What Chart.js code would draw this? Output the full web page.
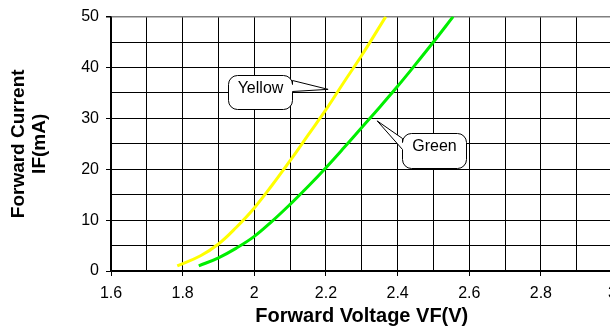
<!DOCTYPE html>
<html>
<head>
<meta charset="utf-8">
<script src="https://cdn.jsdelivr.net/npm/chart.js@4.4.1/dist/chart.umd.min.js"></script>
<style>
  html, body { margin: 0; padding: 0; background: #fff; overflow: hidden; }
  #wrap { position: relative; width: 625px; height: 335px; }
</style>
</head>
<body>
<div id="wrap"><canvas id="ivChart"></canvas></div>
<script>
// forward voltage (V) / forward current (mA)
const yellowVolts = [1.785, 1.85, 1.9, 1.95, 2.0, 2.05, 2.1, 2.15, 2.2, 2.25, 2.3, 2.367];
const yellowCurrent = [1, 3, 5.3, 8.6, 12.4, 16.9, 21.7, 26.7, 31.7, 37.1, 42.4, 50];
const greenVolts = [1.845, 1.9, 1.95, 2.0, 2.05, 2.1, 2.15, 2.2, 2.25, 2.3, 2.35, 2.4, 2.45, 2.5, 2.555];
const greenCurrent = [1, 2.6, 4.5, 6.8, 9.8, 13.1, 16.6, 20.3, 24.2, 28.2, 32.2, 36.3, 40.6, 45, 50];

const xTickLabels = ['1.6', '1.8', '2', '2.2', '2.4', '2.6', '2.8', '3'];
const yTickLabels = ['0', '10', '20', '30', '40', '50'];

// callouts: text, pointer tip and box corners in data units
const calloutText = ['Yellow', 'Green'];
const calloutTipX = [2.206, 2.343];
const calloutTipY = [35.7, 29.5];
const calloutLeft = [1.927, 2.411];
const calloutRight = [2.104, 2.592];
const calloutTop = [38.6, 27.1];
const calloutBottom = [31.9, 20.2];

const FONT = 'Arial, "Liberation Sans", sans-serif';

function toPoints(xs, ys) {
  return xs.map((x, i) => ({ x, y: ys[i] }));
}

function isLabelledX(value) {
  return xTickLabels.includes(String(Number(value.toFixed(1))));
}

function isLabelledY(value) {
  return yTickLabels.includes(String(Math.round(value)));
}

const calloutPlugin = {
  id: 'callouts',
  afterDatasetsDraw(chart) {
    const { ctx, scales: { x, y } } = chart;
    ctx.save();
    ctx.lineWidth = 1;
    ctx.strokeStyle = '#000';
    calloutText.forEach((text, i) => {
      const l = Math.round(x.getPixelForValue(calloutLeft[i])) + 0.5;
      const r = Math.round(x.getPixelForValue(calloutRight[i])) + 0.5;
      const t = Math.round(y.getPixelForValue(calloutTop[i])) + 0.5;
      const b = Math.round(y.getPixelForValue(calloutBottom[i])) + 0.5;
      const tx = x.getPixelForValue(calloutTipX[i]);
      const ty = y.getPixelForValue(calloutTipY[i]);
      const rad = 9;
      const pointerRight = tx > r;

      ctx.beginPath();
      ctx.moveTo(l + rad, t);
      ctx.lineTo(r - rad, t);
      ctx.arcTo(r, t, r, t + rad, rad);
      if (pointerRight) {
        ctx.lineTo(r, t + 5);
        ctx.lineTo(tx, ty);
        ctx.lineTo(r, t + 16);
      }
      ctx.lineTo(r, b - rad);
      ctx.arcTo(r, b, r - rad, b, rad);
      ctx.lineTo(l + rad, b);
      ctx.arcTo(l, b, l, b - rad, rad);
      if (!pointerRight) {
        ctx.lineTo(l, t + 16);
        ctx.lineTo(tx, ty);
        ctx.lineTo(l, t + 5);
      }
      ctx.lineTo(l, t + rad);
      ctx.arcTo(l, t, l + rad, t, rad);
      ctx.closePath();
      ctx.fillStyle = '#fff';
      ctx.fill();
      ctx.stroke();

      ctx.fillStyle = '#000';
      ctx.font = '16px ' + FONT;
      ctx.textAlign = 'center';
      ctx.textBaseline = 'middle';
      ctx.fillText(text, (l + r) / 2, t + 13);
    });
    ctx.restore();
  },
};

new Chart(document.getElementById('ivChart'), {
  type: 'line',
  data: {
    datasets: [
      {
        label: 'Yellow',
        data: toPoints(yellowVolts, yellowCurrent),
        borderColor: '#ffff00',
        borderWidth: 3,
        pointRadius: 0,
        tension: 0.4,
      },
      {
        label: 'Green',
        data: toPoints(greenVolts, greenCurrent),
        borderColor: '#00ee00',
        borderWidth: 3,
        pointRadius: 0,
        tension: 0.4,
      },
    ],
  },
  options: {
    responsive: true,
    maintainAspectRatio: false,
    animation: false,
    layout: { padding: { top: 15, right: 12, bottom: 0, left: 0 } },
    plugins: {
      legend: { display: false },
      tooltip: { enabled: false },
    },
    scales: {
      x: {
        type: 'linear',
        min: 1.6,
        max: 3.0,
        afterFit(scale) { scale.height = 64; },
        ticks: {
          stepSize: 0.1,
          autoSkip: false,
          maxRotation: 0,
          padding: 8,
          color: '#000',
          font: { family: FONT, size: 16 },
          callback(value) { return isLabelledX(value) ? String(Number(value.toFixed(1))) : ''; },
        },
        grid: {
          color: '#000',
          lineWidth: 1,
          tickLength: 5,
          tickColor: (c) => (c.tick && isLabelledX(c.tick.value) ? '#000' : 'rgba(0,0,0,0)'),
        },
        border: { display: true, color: '#000', width: 1.5 },
        title: {
          display: true,
          text: 'Forward Voltage VF(V)',
          color: '#000',
          font: { family: FONT, size: 20, weight: 'bold' },
          padding: { top: 0, bottom: 7 },
        },
      },
      y: {
        min: 0,
        max: 50,
        afterFit(scale) { scale.width = 111; },
        ticks: {
          stepSize: 5,
          autoSkip: false,
          padding: 7,
          color: '#000',
          font: { family: FONT, size: 16 },
          callback(value) { return isLabelledY(value) && value % 10 === 0 ? String(value) : ''; },
        },
        grid: {
          color: (c) => (c.tick && c.tick.value === 50 ? '#808080' : '#000'),
          lineWidth: (c) => (c.tick && c.tick.value === 50 ? 1.5 : 1),
          tickLength: 5,
          tickColor: (c) => (c.tick && c.tick.value % 10 === 0 ? '#000' : 'rgba(0,0,0,0)'),
        },
        border: { display: true, color: '#000', width: 1.5 },
        title: {
          display: true,
          text: ['Forward Current', 'IF(mA)'],
          color: '#000',
          font: { family: FONT, size: 19, weight: 'bold', lineHeight: 1.07 },
          padding: { top: 9, bottom: 4 },
        },
      },
    },
  },
  plugins: [calloutPlugin],
});
</script>
</body>
</html>
